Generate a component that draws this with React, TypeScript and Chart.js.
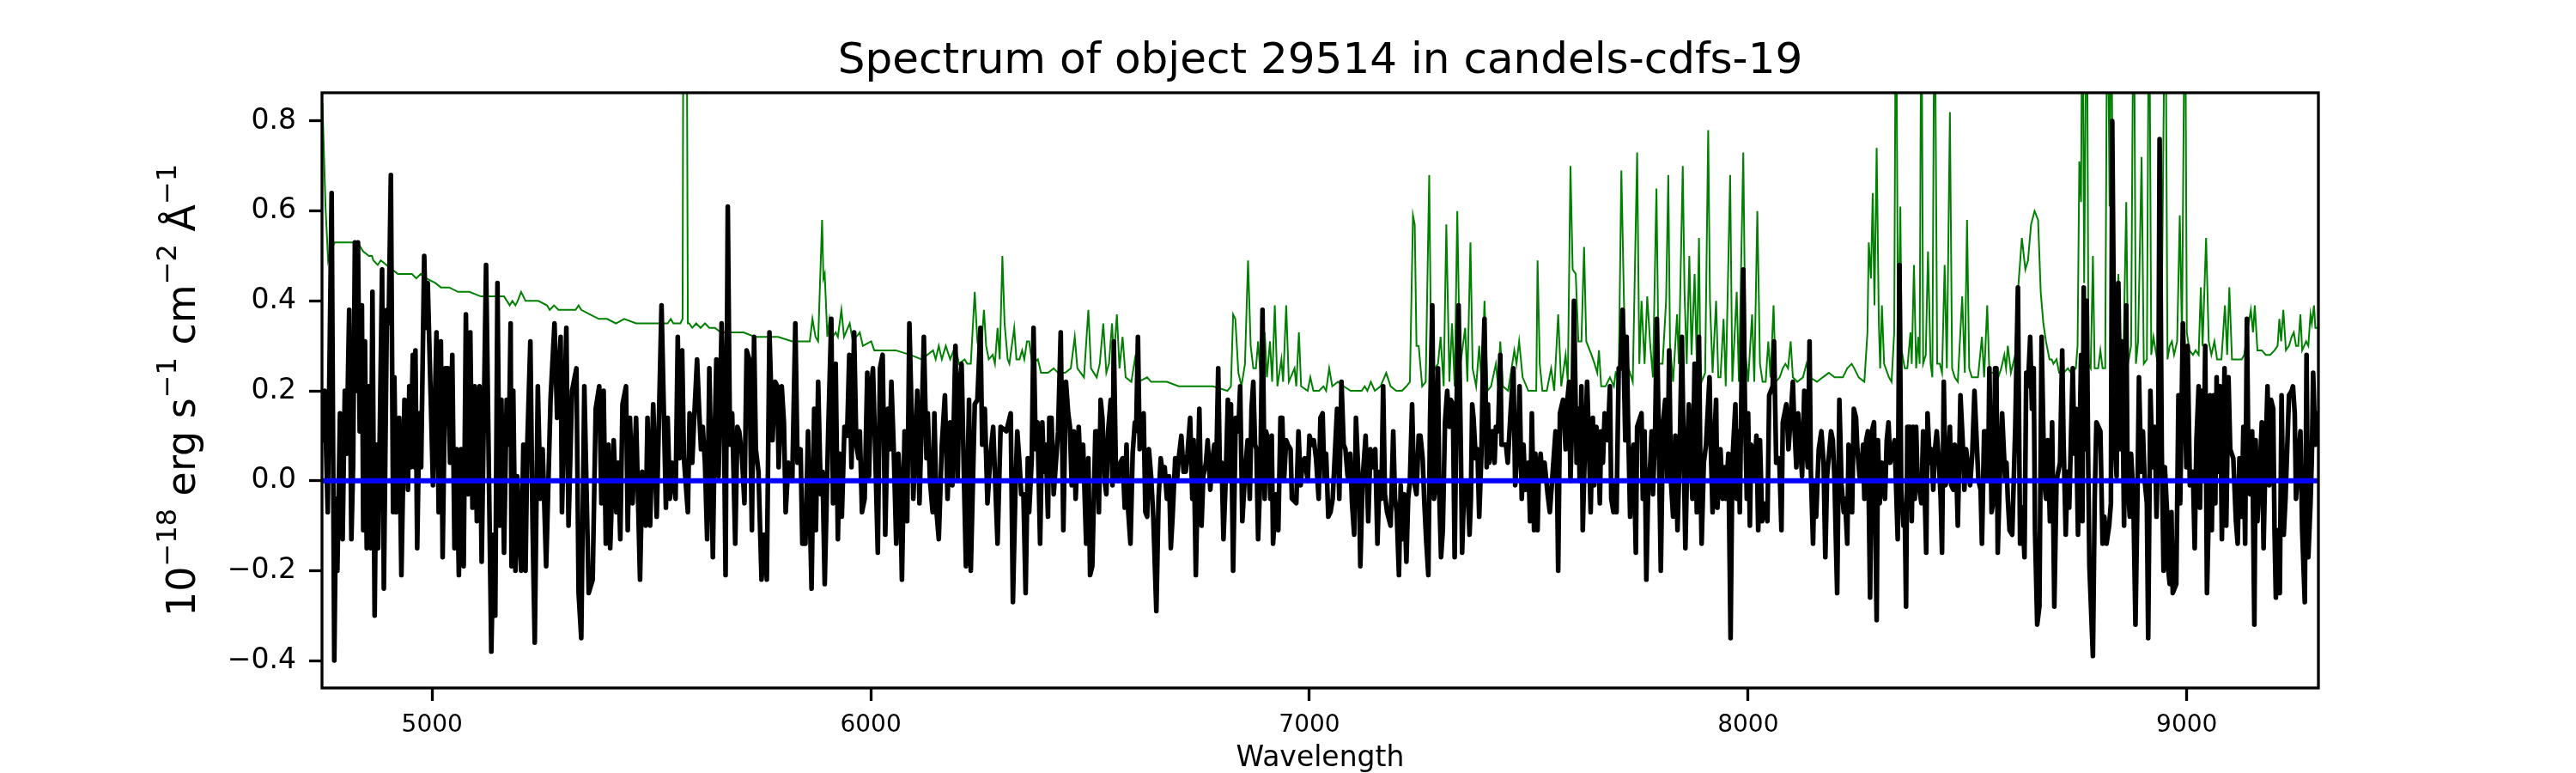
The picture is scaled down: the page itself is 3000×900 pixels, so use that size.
import React, { useEffect, useRef } from 'react';
import { Chart, LineController, LineElement, PointElement, LinearScale } from 'chart.js';

Chart.register(LineController, LineElement, PointElement, LinearScale);

const FONT = "'DejaVu Sans', sans-serif";
const TITLE = 'Spectrum of object 29514 in candels-cdfs-19';
const X_LABEL = 'Wavelength';

const xTicks = [5000, 6000, 7000, 8000, 9000];
const yTicks = [-0.4, -0.2, 0, 0.2, 0.4, 0.6, 0.8];

// observed flux (black)
const fluxWave = [
    4748, 4752, 4755, 4762, 4771, 4777, 4781, 4784, 4790, 4796, 4801, 4805, 4811, 4816, 4820, 4824, 4828, 4831, 4835, 4840,
    4843, 4847, 4851, 4855, 4860, 4864, 4869, 4873, 4877, 4886, 4890, 4897, 4901, 4906, 4911, 4914, 4918, 4925, 4930, 4937,
    4945, 4948, 4951, 4956, 4960, 4962, 4966, 4971, 4975, 4982, 4986, 4990, 4997, 5002, 5010, 5015, 5020, 5024, 5030, 5036,
    5041, 5046, 5051, 5056, 5061, 5066, 5072, 5077, 5082, 5087, 5092, 5097, 5102, 5108, 5113, 5123, 5135, 5140, 5144, 5149,
    5154, 5158, 5164, 5170, 5175, 5179, 5181, 5185, 5190, 5194, 5200, 5203, 5208, 5213, 5217, 5224, 5229, 5234, 5241, 5247,
    5252, 5260, 5270, 5279, 5285, 5293, 5296, 5306, 5311, 5319, 5329, 5334, 5340, 5347, 5357, 5366, 5373, 5381, 5386, 5391,
    5396, 5402, 5406, 5414, 5420, 5424, 5429, 5434, 5442, 5446, 5451, 5457, 5465, 5474, 5479, 5487, 5491, 5497, 5504, 5512,
    5523, 5533,
    5537, 5542, 5547, 5555, 5560, 5564, 5570, 5574, 5583, 5587, 5593, 5597, 5604, 5609, 5613, 5617, 5622, 5627, 5632, 5640,
    5644, 5648, 5653, 5660, 5665, 5669, 5674, 5679, 5684, 5691, 5696, 5700, 5706, 5712, 5717, 5723, 5729, 5734, 5738, 5744,
    5751, 5757, 5763, 5769, 5776, 5782, 5787, 5790, 5797, 5802, 5806, 5812, 5821, 5828, 5833, 5840, 5844, 5851, 5857, 5865,
    5871, 5875, 5880, 5886, 5890, 5895, 5903, 5910, 5914, 5920, 5925, 5929, 5934, 5940, 5946, 5951, 5956, 5962, 5967, 5972,
    5975, 5980, 5986, 5992, 5996, 6001, 6005, 6010, 6016, 6021, 6027, 6033, 6039, 6043, 6047, 6052, 6058, 6063, 6067, 6071,
    6077, 6083, 6088, 6094, 6097, 6106, 6111, 6116, 6121, 6127, 6130, 6135, 6141, 6145, 6150, 6155, 6162, 6169, 6175, 6181,
    6186, 6193, 6198, 6202, 6207, 6213, 6217, 6224, 6228, 6237, 6243, 6250, 6254, 6260, 6266, 6273, 6279, 6289, 6296, 6309,
    6319, 6324,
    6330, 6334, 6339, 6343, 6348, 6353, 6358, 6361, 6367, 6371, 6376, 6380, 6386, 6391, 6395, 6399, 6404, 6407, 6412, 6417,
    6422, 6427, 6433, 6439, 6445, 6450, 6454, 6458, 6463, 6467, 6474, 6479, 6484, 6491, 6496, 6500, 6505, 6512, 6516, 6520,
    6524, 6528, 6533, 6537, 6541, 6547, 6551, 6554, 6559, 6564, 6569, 6574, 6579, 6583, 6587, 6592, 6597, 6602, 6605, 6609,
    6613, 6618, 6622, 6626, 6630, 6634, 6639, 6644, 6651, 6656, 6661, 6666, 6670, 6675, 6680, 6684, 6688, 6694, 6698, 6702,
    6708, 6713, 6718, 6722, 6728, 6733, 6736, 6741, 6745, 6749, 6754, 6758, 6764, 6768, 6774, 6778, 6783, 6787, 6792, 6796,
    6800, 6804, 6809, 6814, 6818, 6821, 6826, 6832, 6838, 6842, 6847, 6851, 6855, 6859, 6864, 6868, 6872, 6876, 6879, 6883,
    6888, 6893, 6898, 6901, 6906, 6911, 6914, 6917, 6924, 6929, 6934, 6938, 6942, 6947, 6951, 6957, 6960, 6970, 6975, 6980,
    6984, 6989, 6996, 7000, 7006, 7010, 7015, 7021, 7025, 7030, 7034, 7038, 7043, 7048, 7053, 7058, 7063, 7068, 7073, 7078,
    7082, 7087, 7093, 7097, 7102, 7106,
    7113, 7116, 7121, 7128, 7134, 7139, 7145, 7150, 7155, 7160, 7164, 7168, 7172, 7177, 7185, 7191, 7195, 7199, 7204, 7208,
    7212, 7216, 7221, 7225, 7229, 7234, 7238, 7244, 7249, 7253, 7258, 7262, 7266, 7271, 7275, 7280, 7284, 7288, 7293, 7296,
    7300, 7304, 7309, 7314, 7319, 7322, 7327, 7331, 7335, 7340, 7345, 7348, 7353, 7360, 7365, 7368, 7371, 7374, 7379, 7383,
    7387, 7392, 7395, 7399, 7404, 7407, 7410, 7418, 7422, 7425, 7430, 7435, 7438, 7448, 7452, 7459, 7465, 7469, 7476, 7479,
    7484, 7488, 7492, 7499, 7503, 7507, 7512, 7515, 7520, 7523, 7527, 7531, 7536, 7543, 7548, 7556, 7561, 7564, 7567, 7571,
    7578, 7584, 7588, 7592, 7595, 7600, 7603, 7609, 7613, 7616, 7620, 7623, 7627, 7633, 7636, 7641, 7646, 7649, 7654, 7658,
    7662, 7665, 7669, 7673, 7680, 7685, 7688, 7693, 7696, 7700, 7705, 7709, 7714, 7720, 7723, 7726, 7731, 7735, 7739, 7744,
    7747, 7757, 7760, 7764, 7768, 7772, 7777, 7780, 7783, 7788, 7792, 7796, 7801, 7806, 7811, 7816, 7820, 7824, 7829, 7834,
    7839, 7843, 7849, 7853, 7857, 7862, 7865, 7873, 7878, 7883, 7888,
    7891, 7894, 7899, 7904, 7912, 7915, 7919, 7922, 7927, 7930, 7937, 7942, 7946, 7949, 7955, 7960, 7964, 7971, 7974, 7978,
    7981, 7984, 7989, 7993, 7997, 8000, 8004, 8007, 8014, 8019, 8023, 8027, 8032, 8035, 8044, 8048, 8056, 8059, 8064, 8071,
    8076, 8079, 8087, 8092, 8097, 8102, 8105, 8110, 8114, 8118, 8123, 8128, 8133, 8136, 8140, 8143, 8148, 8151, 8155, 8161,
    8167, 8172, 8176, 8180, 8189, 8193, 8197, 8200, 8203, 8208, 8213, 8218, 8221, 8226, 8229, 8235, 8237, 8241, 8246, 8249,
    8254, 8257, 8262, 8265, 8269, 8273, 8278, 8282, 8287, 8293, 8296, 8300, 8305, 8312, 8316, 8320, 8324, 8334, 8341, 8345,
    8349, 8354, 8357, 8360, 8363, 8369, 8373, 8376, 8380, 8383, 8386, 8395, 8399, 8406, 8409, 8414, 8418, 8422, 8426, 8430,
    8435, 8439, 8442, 8446, 8450, 8455, 8460, 8463, 8468, 8471, 8475, 8478, 8481, 8484, 8489, 8493, 8497, 8506, 8511, 8516,
    8520, 8525, 8530, 8533, 8538, 8542, 8547, 8550, 8555, 8560, 8563, 8566, 8569, 8575, 8579, 8586, 8589, 8592, 8596, 8602,
    8609, 8615, 8620, 8625, 8630, 8634, 8638, 8643, 8647, 8651, 8654, 8659, 8664, 8669,
    8675, 8679, 8683, 8688, 8693, 8698, 8703, 8711, 8716, 8719, 8724, 8728, 8732, 8740, 8744, 8747, 8752, 8755, 8759, 8762,
    8765, 8768, 8772, 8775, 8778, 8786, 8790, 8794, 8803, 8808, 8812, 8817, 8823, 8827, 8830, 8836, 8840, 8844, 8849, 8852,
    8857, 8862, 8865, 8870, 8873, 8878, 8883, 8887, 8891, 8896, 8900, 8904, 8909, 8912, 8917, 8922, 8927, 8931, 8935, 8938,
    8943, 8947, 8950, 8955, 8958, 8961, 8965, 8968, 8976, 8981, 8985, 8991, 8995, 8999, 9002, 9007, 9014, 9018, 9022, 9027,
    9030, 9034, 9038, 9042, 9046, 9050, 9053, 9057, 9061, 9065, 9068, 9071, 9076, 9080, 9086, 9090, 9095, 9099, 9106, 9112,
    9116, 9120, 9125, 9129, 9133, 9137, 9141, 9144, 9149, 9154, 9157, 9161, 9165, 9171, 9175, 9179, 9184, 9188, 9192, 9197,
    9200, 9203, 9208, 9212, 9216, 9221, 9225, 9233, 9239, 9242, 9246, 9249, 9254, 9259, 9263, 9269, 9273, 9277, 9282, 9285,
    9288, 9293, 9296, 9300,
];
const flux = [
    0.19, 0.09, 0.20, -0.07, 0.64, -0.40, -0.04, -0.20, 0.15, -0.13, 0.20, 0.06, 0.38, -0.13, 0.04, 0.53, 0.20, 0.53, 0.11, 0.39,
    -0.11, 0.31, -0.15, 0.21, -0.15, 0.42, -0.30, 0.08, -0.15, 0.47, -0.24, 0.38, 0.35, 0.68, -0.07, 0.23, -0.07, 0.14, -0.21, 0.18,
    -0.02, 0.21, 0.03, 0.28, 0.03, 0.29, -0.15, 0.15, 0.03, 0.50, 0.34, 0.44, 0.18, -0.01, 0.33, -0.07, 0.31, -0.17, 0.25, 0.25,
    0.04, 0.28, -0.15, 0.07, -0.21, 0.07, -0.19, 0.37, -0.03, 0.33, -0.06, 0.21, -0.09, 0.21, -0.18, 0.48, -0.38, -0.12, -0.30, 0.44,
    -0.10, 0.18, -0.16, 0.18, 0.08, 0.35, -0.19, 0.20, -0.20, 0.01, -0.14, -0.20, 0.08, -0.20, 0.08, 0.31, -0.10, -0.36, 0.21, -0.04,
    0.07, -0.19, 0.18, 0.35, 0.14, 0.32, -0.07, 0.34, -0.10, 0.20, 0.25, -0.25, -0.35, 0.21, -0.25, -0.22, 0.16, 0.21, -0.05, 0.20,
    -0.14, 0.08, -0.15, 0.09, -0.07, 0.04, -0.13, 0.17, 0.21, -0.11, 0.14, -0.05, 0.14, -0.22, 0.02, -0.10, 0.14, -0.10, 0.17, -0.08,
    0.39, -0.06,
    0.14, -0.04, 0.04, -0.04, 0.32, 0.05, 0.29, 0.05, -0.07, 0.15, 0.04, 0.13, 0.27, 0.15, 0.07, 0.12, 0.04, -0.13, 0.25, -0.17,
    0.09, 0.27, 0.01, 0.35, 0.15, -0.21, 0.61, 0.08, 0.15, -0.14, 0.12, 0.11, 0.06, -0.05, 0.29, 0.27, -0.11, 0.32, 0.07, 0.02,
    -0.22, -0.12, -0.22, 0.33, 0.09, 0.22, 0.21, 0.03, 0.21, 0.13, -0.07, 0.04, 0.00, 0.35, 0.04, 0.07, -0.14, -0.14, 0.11, -0.24,
    0.16, -0.11, 0.22, -0.03, 0.02, -0.23, 0.11, 0.36, -0.05, 0.26, -0.13, 0.06, -0.08, 0.12, 0.10, 0.28, 0.03, 0.33, 0.08, 0.05,
    0.11, -0.07, -0.04, 0.24, 0.01, 0.21, 0.25, 0.07, -0.16, 0.25, 0.28, -0.12, 0.16, 0.07, 0.22, 0.08, -0.14, 0.06, -0.01, -0.22,
    0.11, -0.09, 0.35, 0.11, -0.04, 0.20, -0.05, 0.13, 0.32, 0.05, 0.15, 0.00, -0.07, 0.15, -0.07, -0.13, 0.08, 0.19, -0.04, 0.13,
    -0.01, 0.30, 0.00, 0.21, 0.26, -0.02, -0.19, 0.18, -0.20, 0.17, 0.18, 0.34, 0.08, 0.16, -0.05, 0.06, 0.12, -0.14, 0.12, 0.11,
    0.15, -0.27,
    -0.01, 0.11, 0.04, -0.03, -0.03, -0.25, 0.05, -0.07, 0.05, 0.34, 0.07, 0.13, -0.14, 0.13, 0.02, 0.08, -0.08, 0.14, 0.14, -0.03,
    0.04, 0.11, 0.33, -0.11, 0.22, 0.15, 0.12, -0.01, 0.11, -0.04, 0.12, 0.00, 0.08, -0.14, 0.05, -0.21, -0.19, 0.11, 0.11, -0.07,
    0.18, 0.14, 0.00, -0.03, 0.11, 0.18, -0.01, 0.31, 0.01, 0.00, 0.04, 0.05, -0.06, 0.08, -0.07, -0.14, 0.06, 0.13, 0.11, 0.32,
    0.07, 0.12, 0.15, -0.07, -0.08, 0.07, 0.01, -0.08, -0.29, -0.04, 0.05, 0.01, 0.03, -0.04, 0.01, -0.15, -0.08, 0.05, 0.00, 0.05,
    0.10, 0.02, 0.02, 0.06, 0.14, -0.04, 0.09, -0.21, -0.01, 0.16, -0.10, 0.01, 0.04, 0.09, -0.02, 0.04, 0.08, 0.00, 0.25, 0.01,
    0.04, -0.13, 0.00, 0.18, 0.00, 0.17, -0.20, 0.14, 0.11, 0.21, -0.09, -0.02, 0.04, 0.09, -0.04, 0.16, 0.22, 0.08, 0.07, -0.13,
    0.01, 0.38, -0.04, 0.11, 0.09, -0.04, 0.10, -0.14, -0.03, -0.11, 0.14, 0.14, 0.00, 0.09, 0.08, 0.07, -0.04, -0.05, 0.11, -0.01,
    0.04, 0.05, 0.00, 0.10, 0.08, 0.09, 0.05, -0.04, 0.14, 0.15, 0.00, 0.06, -0.08, -0.07, -0.04, 0.06, 0.16, -0.04, 0.22, 0.08,
    0.07, 0.01, 0.06, -0.05, -0.12, 0.14,
    -0.02, -0.19, 0.00, 0.10, -0.09, 0.07, 0.03, 0.07, -0.14, 0.02, -0.04, 0.21, -0.03, -0.07, -0.10, 0.11, -0.04, -0.07, -0.21, -0.01,
    -0.13, -0.03, -0.18, -0.04, 0.00, 0.17, 0.00, -0.03, 0.10, 0.10, 0.05, -0.05, -0.13, -0.21, 0.14, 0.39, -0.04, 0.00, 0.25, -0.03,
    -0.17, -0.11, 0.13, 0.20, 0.12, 0.18, 0.17, -0.17, 0.15, 0.39, 0.08, -0.16, 0.00, -0.01, -0.12, -0.04, 0.17, 0.14, 0.05, 0.07,
    -0.08, 0.06, 0.23, 0.36, 0.03, 0.17, 0.04, 0.11, 0.04, 0.12, 0.11, 0.28, 0.08, 0.08, 0.04, 0.16, 0.25, -0.01, 0.10, 0.21,
    -0.04, 0.08, -0.02, 0.04, -0.09, 0.15, -0.11, 0.06, -0.11, 0.02, 0.06, 0.00, 0.04, -0.03, -0.07, 0.04, 0.11, 0.04, -0.20, 0.15,
    0.18, 0.07, 0.18, 0.22, 0.00, 0.18, 0.40, 0.04, 0.16, 0.00, 0.21, -0.11, 0.04, 0.22, 0.12, -0.07, 0.14, -0.01, 0.12, 0.09,
    -0.05, 0.11, 0.04, 0.15, 0.09, 0.21, -0.04, -0.07, 0.00, -0.07, 0.25, 0.25, 0.38, 0.09, 0.32, 0.15, -0.08, 0.04, 0.08, -0.16,
    0.12, 0.15, -0.04, 0.11, -0.22, -0.02, 0.04, 0.11, -0.03, 0.11, 0.36, 0.11, -0.20, 0.13, 0.18, 0.00, 0.29, 0.00, -0.08, 0.10,
    -0.11, 0.02, 0.32, 0.07, -0.15, 0.09, 0.17, -0.04, 0.26, -0.07, 0.32,
    0.04, -0.14, 0.04, 0.08, 0.23, 0.07, -0.07, 0.07, 0.18, -0.06, 0.07, -0.04, 0.03, -0.04, 0.06, -0.35, 0.04, 0.17, -0.04, 0.11,
    -0.07, 0.15, 0.47, 0.15, -0.04, 0.15, -0.10, 0.08, 0.01, 0.10, -0.11, 0.09, -0.09, -0.05, -0.09, 0.19, 0.21, 0.31, 0.04, 0.05,
    -0.11, 0.13, 0.17, 0.07, 0.14, 0.22, 0.13, 0.03, 0.15, 0.09, 0.01, 0.20, 0.07, 0.03, 0.31, 0.02, -0.14, 0.00, -0.08, 0.07,
    0.11, 0.04, -0.17, 0.01, 0.11, 0.09, 0.00, -0.13, -0.25, 0.18, -0.01, -0.07, -0.04, -0.14, 0.08, 0.00, -0.07, 0.16, 0.14, 0.07,
    0.01, 0.00, 0.08, -0.04, 0.09, 0.11, -0.26, 0.11, 0.13, -0.31, 0.09, -0.05, 0.04, -0.04, 0.09, 0.13, 0.04, 0.09, -0.13, 0.48,
    -0.02, -0.10, -0.06, -0.28, 0.12, 0.12, -0.09, 0.12, -0.04, 0.12, 0.01, -0.05, 0.11, -0.16, 0.15, 0.04, 0.07, -0.02, 0.07, 0.11,
    0.04, -0.04, -0.16, 0.22, -0.01, 0.01, 0.12, -0.01, -0.02, 0.08, 0.01, -0.10, 0.04, 0.19, 0.09, -0.02, 0.07, -0.01, 0.06, 0.20,
    0.11, 0.00, -0.02, -0.14, 0.11, 0.11, 0.00, 0.25, -0.07, -0.04, 0.25, 0.25, -0.16, 0.05, 0.15, 0.00, 0.04, -0.04, -0.11, -0.12,
    0.12, 0.43, -0.14, -0.06, -0.17, 0.24, 0.21, 0.32, 0.16, 0.25, -0.11, -0.32, -0.28, 0.32,
    0.00, -0.04, 0.09, -0.09, 0.13, -0.28, 0.00, 0.04, 0.29, 0.09, -0.12, 0.02, -0.06, 0.25, 0.06, 0.16, -0.12, 0.05, 0.28, -0.09,
    0.43, 0.07, 0.40, 0.06, -0.19, -0.39, -0.04, 0.13, 0.11, -0.14, -0.08, -0.14, -0.10, -0.05, 0.80, 0.09, 0.01, 0.44, 0.07, 0.31,
    -0.10, 0.39, 0.00, -0.08, 0.06, -0.03, -0.32, -0.07, 0.23, 0.02, 0.11, 0.00, -0.05, -0.35, 0.20, 0.03, 0.12, -0.08, 0.11, 0.76,
    0.06, -0.20, 0.03, -0.07, -0.20, -0.23, -0.07, -0.25, -0.23, 0.19, -0.05, 0.35, 0.22, 0.03, 0.30, -0.01, 0.02, -0.15, 0.09, 0.21,
    -0.06, 0.20, 0.00, 0.30, -0.25, -0.07, 0.19, -0.11, 0.19, -0.05, 0.23, 0.02, 0.21, -0.13, 0.25, -0.10, 0.23, 0.07, 0.05, -0.09,
    -0.14, 0.05, -0.08, 0.12, -0.14, 0.36, -0.01, -0.03, 0.11, -0.32, 0.09, -0.09, -0.01, 0.13, -0.15, 0.04, 0.21, -0.01, 0.18, 0.16,
    -0.11, -0.26, -0.11, -0.25, 0.19, -0.12, -0.04, 0.19, 0.20, 0.21, 0.15, -0.04, 0.04, 0.11, -0.11, -0.27, 0.28, -0.17, -0.05, 0.05,
    0.24, 0.08, 0.15, 0.14,
];

// noise spectrum (green)
const errWave = [
    4750, 4757, 4763, 4768, 4778, 4797, 4817, 4830, 4843, 4856, 4863, 4866, 4876, 4883, 4896, 4909, 4922, 4935, 4954, 4964,
    4974, 4987, 5007, 5020, 5039, 5059, 5085, 5111, 5138, 5164, 5177, 5183, 5190, 5195, 5203, 5213, 5229, 5242, 5262, 5268,
    5278, 5288, 5308, 5327, 5334, 5340, 5360, 5380, 5399, 5419, 5438, 5465, 5491, 5517, 5537,
    5544, 5550, 5566, 5571, 5573, 5580, 5583, 5586, 5593, 5602, 5612, 5622, 5632, 5645, 5658, 5684, 5710, 5736, 5763, 5789,
    5821, 5861, 5867, 5874, 5880, 5889, 5892, 5895, 5901, 5906, 5913, 5920, 5925, 5933, 5939, 5952, 5959, 5975, 5982, 6001,
    6008, 6034, 6057, 6090, 6116, 6142, 6148, 6155, 6162, 6171, 6181, 6193, 6201, 6214, 6220, 6228, 6237, 6243, 6250, 6258,
    6263, 6269, 6278, 6283, 6289, 6294, 6300, 6305, 6312, 6316,
    6327, 6332, 6339, 6345, 6350, 6356, 6361, 6368, 6381, 6388, 6404, 6417, 6427, 6443, 6456, 6465, 6471, 6486, 6496, 6502,
    6515, 6522, 6530, 6537, 6543, 6550, 6554, 6561, 6567, 6574, 6581, 6594, 6602, 6610, 6630, 6639, 6675, 6702, 6741, 6780,
    6813, 6821, 6826, 6831, 6838, 6845, 6853, 6860, 6866, 6872, 6878, 6883, 6890, 6898, 6903, 6910, 6915, 6921, 6927, 6936,
    6940, 6947, 6953, 6966, 6970, 6976, 6981, 6996, 7002, 7009, 7022, 7032, 7038, 7045, 7052, 7065, 7078, 7094, 7106,
    7119, 7126, 7132, 7140, 7149, 7162, 7175, 7185, 7198, 7211, 7221, 7229, 7236, 7240, 7244, 7249, 7257, 7265, 7273, 7278,
    7286, 7293, 7299, 7306, 7312, 7319, 7325, 7331, 7337, 7343, 7355, 7360, 7367, 7372, 7380, 7387, 7393, 7399, 7406, 7414,
    7425, 7430, 7435, 7441, 7453, 7467, 7472, 7478, 7486, 7499, 7517, 7520, 7525, 7531, 7541, 7551, 7558, 7567, 7574, 7584,
    7589, 7595, 7600, 7607, 7613, 7620, 7626, 7631, 7643, 7650, 7656, 7660, 7665, 7675, 7685, 7694, 7698, 7705, 7711, 7718,
    7724, 7737, 7747, 7752, 7757, 7764, 7770, 7777, 7783, 7791, 7796, 7805, 7813, 7818, 7822, 7829, 7838, 7842, 7851, 7855,
    7860, 7866, 7871, 7878, 7883, 7888,
    7891, 7894, 7902, 7909, 7913, 7919, 7927, 7932, 7937, 7944, 7949, 7959, 7964, 7974, 7979, 7989, 7994, 8000, 8009, 8014,
    8021, 8027, 8033, 8040, 8046, 8051, 8058, 8063, 8072, 8079, 8085, 8091, 8097, 8102, 8112, 8125, 8133, 8141, 8157, 8170,
    8184, 8197, 8216, 8226, 8236, 8242, 8252, 8265, 8272, 8275, 8280, 8284, 8288, 8293, 8298, 8301, 8305, 8310, 8321, 8327,
    8333, 8337, 8342, 8347, 8350, 8357, 8363, 8370, 8373, 8378, 8383, 8388, 8391, 8395, 8399, 8405, 8410, 8416, 8420, 8425,
    8431, 8437, 8442, 8448, 8453, 8460, 8465, 8471, 8478, 8488, 8494, 8499, 8504, 8510, 8517, 8524, 8533, 8538, 8545, 8550,
    8560, 8570, 8577, 8584, 8588, 8592, 8599, 8609, 8615, 8624, 8632, 8638, 8645, 8653, 8661, 8667, 8673,
    8679, 8687, 8692, 8696, 8703, 8709, 8719, 8729, 8736, 8747, 8751, 8755, 8759, 8762, 8766, 8772, 8776, 8781, 8786, 8790,
    8798, 8803, 8808, 8814, 8819, 8824, 8828, 8832, 8837, 8844, 8850, 8855, 8862, 8866, 8873, 8879, 8884, 8889, 8897, 8902,
    8909, 8914, 8919, 8924, 8932, 8936, 8942, 8951, 8956, 8961, 8966, 8971, 8978, 8984, 8989, 8996, 9000, 9006, 9014, 9020,
    9027, 9032, 9036, 9044, 9050, 9056, 9063, 9069, 9079, 9087, 9092, 9097, 9103, 9112, 9125, 9131, 9141, 9146, 9151, 9155,
    9161, 9171, 9180, 9190, 9200, 9207, 9211, 9215, 9220, 9226, 9233, 9239, 9244, 9249, 9254, 9259, 9263, 9272, 9277, 9282,
    9285, 9290, 9293, 9301,
];
const err = [
    0.84, 0.61, 0.49, 0.51, 0.53, 0.53, 0.53, 0.53, 0.51, 0.50, 0.50, 0.49, 0.48, 0.49, 0.48, 0.47, 0.46, 0.46, 0.46, 0.45,
    0.46, 0.45, 0.44, 0.43, 0.43, 0.42, 0.42, 0.41, 0.41, 0.41, 0.39, 0.40, 0.39, 0.40, 0.42, 0.40, 0.40, 0.40, 0.39, 0.38,
    0.39, 0.38, 0.38, 0.38, 0.39, 0.38, 0.37, 0.36, 0.36, 0.35, 0.36, 0.35, 0.35, 0.35, 0.35,
    0.36, 0.35, 0.35, 0.36, 1.20, 1.20, 0.35, 0.35, 0.34, 0.35, 0.34, 0.35, 0.34, 0.34, 0.33, 0.33, 0.33, 0.32, 0.32, 0.32,
    0.31, 0.31, 0.36, 0.32, 0.31, 0.58, 0.45, 0.46, 0.32, 0.36, 0.32, 0.33, 0.32, 0.38, 0.32, 0.35, 0.31, 0.33, 0.30, 0.31,
    0.29, 0.29, 0.29, 0.28, 0.27, 0.29, 0.27, 0.30, 0.27, 0.30, 0.27, 0.30, 0.26, 0.27, 0.26, 0.26, 0.42, 0.31, 0.27, 0.38,
    0.30, 0.27, 0.28, 0.26, 0.34, 0.27, 0.50, 0.35, 0.27, 0.26,
    0.34, 0.27, 0.27, 0.29, 0.27, 0.31, 0.31, 0.26, 0.27, 0.24, 0.24, 0.25, 0.24, 0.24, 0.25, 0.32, 0.25, 0.23, 0.38, 0.25,
    0.23, 0.26, 0.35, 0.24, 0.26, 0.35, 0.27, 0.37, 0.25, 0.32, 0.23, 0.22, 0.27, 0.22, 0.23, 0.22, 0.22, 0.21, 0.21, 0.21,
    0.20, 0.21, 0.37, 0.36, 0.24, 0.21, 0.26, 0.49, 0.30, 0.25, 0.25, 0.31, 0.21, 0.33, 0.23, 0.31, 0.22, 0.39, 0.21, 0.27,
    0.22, 0.39, 0.22, 0.25, 0.21, 0.33, 0.21, 0.20, 0.23, 0.20, 0.20, 0.21, 0.20, 0.25, 0.21, 0.22, 0.21, 0.20, 0.20,
    0.20, 0.21, 0.20, 0.22, 0.20, 0.21, 0.24, 0.21, 0.20, 0.20, 0.21, 0.22, 0.59, 0.57, 0.30, 0.30, 0.21, 0.22, 0.68, 0.22,
    0.25, 0.26, 0.32, 0.21, 0.57, 0.22, 0.35, 0.21, 0.60, 0.25, 0.34, 0.22, 0.53, 0.25, 0.21, 0.30, 0.21, 0.40, 0.20, 0.21,
    0.26, 0.21, 0.31, 0.21, 0.20, 0.29, 0.26, 0.31, 0.23, 0.20, 0.20, 0.49, 0.26, 0.20, 0.20, 0.25, 0.20, 0.37, 0.21, 0.28,
    0.22, 0.70, 0.47, 0.46, 0.31, 0.31, 0.52, 0.31, 0.28, 0.26, 0.24, 0.29, 0.21, 0.21, 0.23, 0.21, 0.24, 0.23, 0.69, 0.35,
    0.26, 0.22, 0.73, 0.26, 0.40, 0.26, 0.41, 0.30, 0.23, 0.65, 0.26, 0.26, 0.40, 0.68, 0.30, 0.22, 0.37, 0.26, 0.70, 0.42,
    0.26, 0.50, 0.28, 0.46, 0.26, 0.54,
    0.27, 0.22, 0.24, 0.78, 0.40, 0.24, 0.40, 0.23, 0.23, 0.36, 0.21, 0.68, 0.22, 0.42, 0.22, 0.73, 0.28, 0.22, 0.37, 0.22,
    0.60, 0.26, 0.22, 0.22, 0.31, 0.23, 0.39, 0.22, 0.23, 0.25, 0.26, 0.25, 0.31, 0.23, 0.22, 0.23, 0.26, 0.23, 0.22, 0.23,
    0.24, 0.23, 0.23, 0.25, 0.26, 0.25, 0.23, 0.22, 0.33, 0.53, 0.45, 0.64, 0.39, 0.74, 0.35, 0.25, 0.39, 0.26, 0.23, 0.22,
    0.33, 1.20, 0.26, 0.61, 0.29, 0.25, 0.25, 0.33, 0.26, 0.48, 0.25, 0.32, 0.26, 1.20, 0.26, 0.28, 0.51, 0.26, 0.23, 1.20,
    0.26, 0.26, 0.24, 0.48, 0.25, 0.82, 0.25, 0.23, 0.22, 0.41, 0.24, 0.58, 0.25, 0.23, 0.23, 0.23, 0.32, 0.23, 0.39, 0.24,
    0.24, 0.23, 0.25, 0.28, 0.25, 0.30, 0.24, 0.28, 0.42, 0.54, 0.47, 0.49, 0.57, 0.60, 0.58, 0.42, 0.35,
    0.31, 0.27, 0.27, 0.26, 0.27, 0.24, 0.24, 0.25, 0.24, 0.25, 0.30, 0.71, 0.62, 1.20, 0.44, 1.20, 0.26, 0.25, 0.50, 0.25,
    0.25, 0.29, 0.25, 0.25, 1.20, 0.61, 1.20, 0.32, 0.25, 0.46, 0.26, 0.25, 0.62, 0.26, 0.30, 1.20, 0.26, 0.31, 0.72, 0.26,
    0.27, 1.20, 0.28, 0.32, 0.27, 0.28, 0.28, 1.20, 0.27, 0.30, 0.31, 0.28, 0.31, 0.59, 0.32, 1.20, 0.33, 0.29, 0.28, 0.29,
    0.28, 0.43, 0.30, 0.54, 0.31, 0.28, 0.31, 0.27, 0.27, 0.39, 0.28, 0.43, 0.27, 0.27, 0.27, 0.28, 0.35, 0.38, 0.33, 0.39,
    0.29, 0.29, 0.28, 0.28, 0.29, 0.30, 0.36, 0.31, 0.38, 0.29, 0.30, 0.32, 0.33, 0.30, 0.30, 0.37, 0.29, 0.31, 0.30, 0.37,
    0.35, 0.39, 0.34, 0.34,
];

// zero level (blue)
const zeroWave = [4749, 9300];
const zeroFlux = [0, 0];

const yLabelParts = [
    { text: '10', sup: false },
    { text: '\u221218', sup: true },
    { text: ' erg s', sup: false },
    { text: '\u22121', sup: true },
    { text: ' cm', sup: false },
    { text: '\u22122', sup: true },
    { text: ' \u00c5', sup: false },
    { text: '\u22121', sup: true },
];

const toPoints = (xs: number[], ys: number[]) => xs.map((x, i) => ({ x, y: ys[i] }));

const decorations = {
    id: 'decorations',
    afterDraw(chart: Chart) {
        const { ctx, chartArea: a } = chart;
        const cx = (a.left + a.right) / 2;
        ctx.save();
        // axes frame on all four sides
        ctx.strokeStyle = '#000';
        ctx.lineWidth = 3.3;
        ctx.strokeRect(a.left, a.top, a.right - a.left, a.bottom - a.top);

        ctx.fillStyle = '#000';
        ctx.textBaseline = 'alphabetic';
        ctx.textAlign = 'center';
        ctx.font = `50px ${FONT}`;
        ctx.fillText(TITLE, cx, 85);
        ctx.font = `33px ${FONT}`;
        ctx.fillText(X_LABEL, cx, 892);

        // rotated y label with superscripts
        ctx.translate(227, (a.top + a.bottom) / 2);
        ctx.rotate(-Math.PI / 2);
        ctx.textAlign = 'left';
        const fontFor = (sup: boolean) => `${sup ? 32 : 46}px ${FONT}`;
        let total = 0;
        for (const p of yLabelParts) {
            ctx.font = fontFor(p.sup);
            total += ctx.measureText(p.text).width;
        }
        let x = -total / 2;
        for (const p of yLabelParts) {
            ctx.font = fontFor(p.sup);
            ctx.fillText(p.text, x, p.sup ? -22 : 0);
            x += ctx.measureText(p.text).width;
        }
        ctx.restore();
    },
};

const SpectrumChart: React.FC = () => {
    const chartRef = useRef<HTMLCanvasElement>(null);
    const chartInstance = useRef<Chart | null>(null);

    useEffect(() => {
        document.body.style.margin = '0';
        if (!chartRef.current) return;
        if (chartInstance.current) chartInstance.current.destroy();
        const ctx = chartRef.current.getContext('2d');
        if (!ctx) return;

        chartInstance.current = new Chart(ctx, {
            type: 'line',
            data: {
                datasets: [
                    {
                        label: 'zero',
                        data: toPoints(zeroWave, zeroFlux),
                        borderColor: '#0000ff',
                        borderWidth: 6,
                        pointRadius: 0,
                        tension: 0,
                        clip: 0,
                    },
                    {
                        label: 'flux',
                        data: toPoints(fluxWave, flux),
                        borderColor: '#000000',
                        borderWidth: 5.5,
                        pointRadius: 0,
                        tension: 0,
                        clip: 0,
                        borderJoinStyle: 'round',
                        borderCapStyle: 'round',
                    },
                    {
                        label: 'noise',
                        data: toPoints(errWave, err),
                        borderColor: '#008000',
                        borderWidth: 2,
                        pointRadius: 0,
                        tension: 0,
                        clip: 0,
                    },
                ],
            },
            plugins: [decorations],
            options: {
                animation: false,
                responsive: false,
                devicePixelRatio: 1,
                events: [],
                layout: { padding: { top: 108, right: 300, bottom: 0, left: 0 } },
                plugins: {
                    legend: { display: false },
                    tooltip: { enabled: false },
                },
                scales: {
                    x: {
                        type: 'linear',
                        min: 4749,
                        max: 9300,
                        afterFit: (axis: any) => { axis.height = 99; },
                        afterBuildTicks: (axis: any) => { axis.ticks = xTicks.map((value) => ({ value })); },
                        grid: { display: true, drawOnChartArea: false, drawTicks: true, tickLength: 15, tickWidth: 3.3, tickColor: '#000' },
                        border: { display: false },
                        ticks: {
                            autoSkip: false,
                            maxRotation: 0,
                            padding: 12,
                            color: '#000',
                            font: { family: FONT, size: 28 },
                            callback: (v: any) => String(v),
                        },
                    },
                    y: {
                        type: 'linear',
                        min: -0.461,
                        max: 0.863,
                        afterFit: (axis: any) => { axis.width = 375; },
                        afterBuildTicks: (axis: any) => { axis.ticks = yTicks.map((value) => ({ value })); },
                        grid: { display: true, drawOnChartArea: false, drawTicks: true, tickLength: 15, tickWidth: 3.3, tickColor: '#000' },
                        border: { display: false },
                        ticks: {
                            padding: 15,
                            color: '#000',
                            font: { family: FONT, size: 33 },
                            callback: (v: any) => Number(v).toFixed(1).replace('-', '\u2212'),
                        },
                    },
                },
            },
        });
        return () => { chartInstance.current?.destroy(); chartInstance.current = null; };
    }, []);

    return (
        <div style={{ width: 3000, height: 900, position: 'relative', background: '#fff' }}>
            <canvas ref={chartRef} width={3000} height={900}></canvas>
        </div>
    );
};

export default function App() {
    return <SpectrumChart />;
}
